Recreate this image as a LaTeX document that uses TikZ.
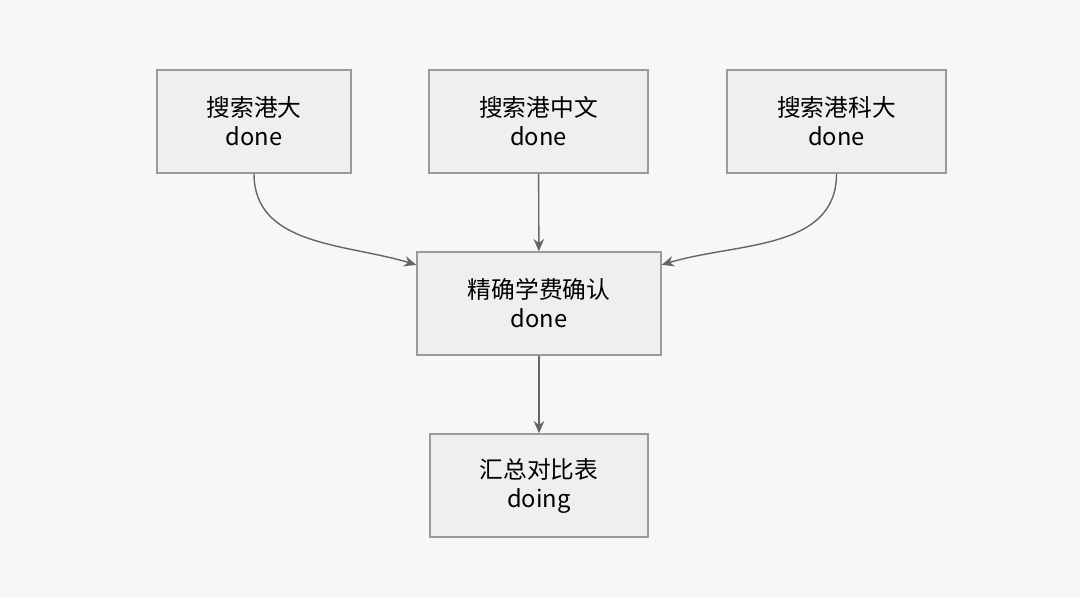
\documentclass[tikz,border=0pt]{standalone}
\usepackage{fontspec}
\setmainfont{Noto Sans CJK SC}
\usetikzlibrary{positioning,arrows.meta,calc}
\definecolor{bgc}{HTML}{F7F7F7}
\definecolor{boxfill}{HTML}{EFEFEF}
\definecolor{boxline}{HTML}{9A9A9A}
\definecolor{arrowc}{HTML}{666666}
\begin{document}
\begin{tikzpicture}
        [
            task/.style={draw=boxline, fill=boxfill, line width=0.8pt, minimum height=2.06cm,
                align=center, inner sep=2pt, font=\fontsize{13.5}{16.5}\selectfont},
            link/.style={draw=arrowc, line width=0.8pt, -{Stealth[length=7pt,width=6pt]}}
        ]
        \fill[bgc] (0,0) rectangle (21.6,11.94);

        \node[task, minimum width=3.88cm] (hku) at (5.08,9.51) {搜索港大\\done};
        \node[task, minimum width=4.38cm] (cuhk) at (10.77,9.51) {搜索港中文\\done};
        \node[task, minimum width=4.38cm] (hkust) at (16.73,9.51) {搜索港科大\\done};
        \node[task, minimum width=4.88cm] (fee) at (10.78,5.87) {精确学费确认\\done};
        \node[task, minimum width=4.36cm] (table) at (10.78,2.23) {汇总对比表\\doing};

        \coordinate (feeL) at ($(fee.north west)!0.13!(fee.south west)$);
        \coordinate (feeR) at ($(fee.north east)!0.13!(fee.south east)$);

        \draw[link] (hku.south) to[out=-90, in=163] (feeL);
        \draw[link] (cuhk) -- (fee);
        \draw[link] (hkust.south) to[out=-90, in=17] (feeR);
        \draw[link] (fee) -- (table);
\end{tikzpicture}
\end{document}
